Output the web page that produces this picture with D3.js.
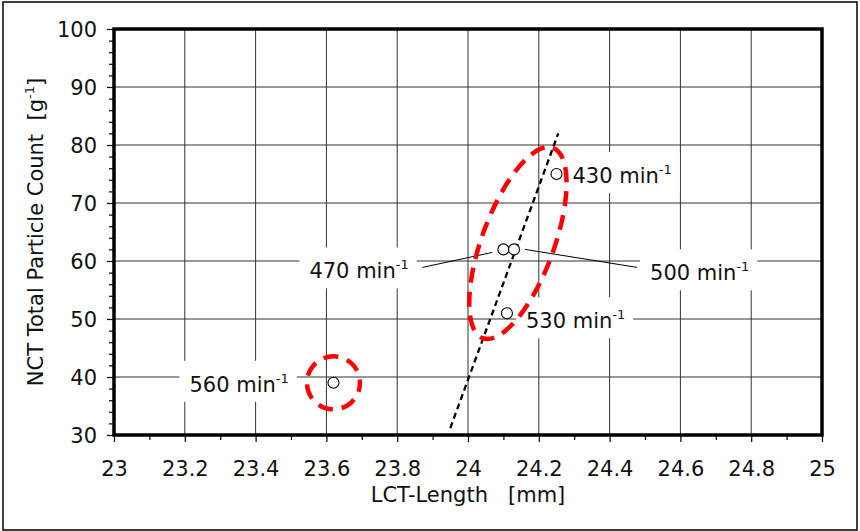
<!DOCTYPE html>
<html><head><meta charset="utf-8">
<script src="https://cdn.jsdelivr.net/npm/d3@7"></script>
<style>html,body{margin:0;padding:0;background:#fff}svg{display:block}</style>
</head><body><svg id="c" width="860" height="531"></svg>
<script>
// ---- data ----
const speeds = ["430", "470", "500", "530", "560"];
const lctLength = [24.25, 24.10, 24.13, 24.11, 23.62];
const particleCount = [75, 62, 62, 51, 39];
const trendX = [23.95, 24.255];
const trendY = [31.2, 82.0];
const groupEllipseAxisX = [24.042, 24.240];
const groupEllipseAxisY = [46.7, 79.5];
const outlierX = [23.62];
const outlierY = [39];
const xTicks = [23, 23.2, 23.4, 23.6, 23.8, 24, 24.2, 24.4, 24.6, 24.8, 25];
const yTicks = [30, 40, 50, 60, 70, 80, 90, 100];

// ---- layout ----
const W = 860, H = 531;
const m = {l: 114, r: 822, t: 29, b: 435};
const FONT = "DejaVu Sans, Verdana, sans-serif";
const FS = 21;
// label offsets (px) relative to point: text left dx, baseline dy, leader line
const labelLayout = [
  {dx: 16, dy: 9},
  {dx: -194, dy: 29, leader: [[-81, 18], [-11, 3]]},
  {dx: 136, dy: 31, leader: [[11, 0], [123, 18]]},
  {dx: 19, dy: 15},
  {dx: -144, dy: 9}
];

const svg = d3.select("#c");
const x = d3.scaleLinear().domain([23, 25]).range([m.l, m.r]);
const y = d3.scaleLinear().domain([30, 100]).range([m.b, m.t]);

svg.append("rect").attr("x", 0).attr("y", 0).attr("width", W).attr("height", H).attr("fill", "#fff");
svg.append("rect").attr("x", 3).attr("y", 2).attr("width", 854).attr("height", 528)
  .attr("fill", "none").attr("stroke", "#000").attr("stroke-width", 1.5);

// grid
const g = svg.append("g");
g.selectAll("line.gx").data(xTicks.slice(1, -1)).join("line")
  .attr("x1", d => x(d)).attr("x2", d => x(d)).attr("y1", m.t).attr("y2", m.b)
  .attr("stroke", "#333").attr("stroke-width", 1);
g.selectAll("line.gy").data(yTicks.slice(1, -1)).join("line")
  .attr("y1", d => y(d)).attr("y2", d => y(d)).attr("x1", m.l).attr("x2", m.r)
  .attr("stroke", "#333").attr("stroke-width", 1);

// axes
const xAxis = d3.axisBottom(x).tickValues(xTicks).tickSize(7).tickFormat(d => String(+d.toFixed(1)));
const xMinor = d3.axisBottom(x).tickValues(d3.range(23.1, 25, 0.2)).tickSize(5).tickFormat("");
const yAxis = d3.axisLeft(y).tickValues(yTicks).tickSize(7).tickFormat(d3.format("d"));
const yMinor = d3.axisLeft(y).tickValues(d3.range(32, 100, 2).filter(v => v % 10 !== 0)).tickSize(5).tickFormat("");

function styleAxis(sel) {
  sel.select(".domain").remove();
  sel.selectAll(".tick line").attr("stroke", "#000").attr("stroke-width", 1.2);
  sel.selectAll("text").attr("font-family", FONT).attr("font-size", FS).attr("fill", "#111");
}
svg.append("g").attr("transform", `translate(0,${m.b})`).call(xAxis).call(styleAxis)
  .selectAll("text").attr("dy", null).attr("y", 41);
svg.append("g").attr("transform", `translate(0,${m.b})`).call(xMinor).call(styleAxis);
svg.append("g").attr("transform", `translate(${m.l},0)`).call(yAxis).call(styleAxis)
  .selectAll("text").attr("x", -17).attr("dy", "0.38em");
svg.append("g").attr("transform", `translate(${m.l},0)`).call(yMinor).call(styleAxis);

// frame
svg.append("rect").attr("x", m.l).attr("y", m.t).attr("width", m.r - m.l).attr("height", m.b - m.t)
  .attr("fill", "none").attr("stroke", "#000").attr("stroke-width", 3.5);

// labels: boxes first
const pts = speeds.map((s, i) => ({s, px: x(lctLength[i]), py: y(particleCount[i]), L: labelLayout[i]}));
const labG = svg.append("g");
const texts = pts.map(p => {
  const t = labG.append("text").attr("x", p.px + p.L.dx).attr("y", p.py + p.L.dy)
    .attr("font-family", FONT).attr("font-size", FS).attr("fill", "#111");
  t.append("tspan").text(p.s + " min");
  t.append("tspan").attr("font-size", 13).attr("dy", -9).text("-1");
  return t;
});
texts.forEach((t, i) => {
  const bb = t.node().getBBox();
  const p = pts[i];
  labG.insert("rect", "text").attr("x", bb.x - 10).attr("y", p.py + p.L.dy - 31)
    .attr("width", bb.width + 18).attr("height", 41).attr("fill", "#fff");
});
const lead = svg.append("g");
pts.forEach(p => {
  if (p.L.leader) {
    const [a, b] = p.L.leader;
    lead.append("line").attr("x1", p.px + a[0]).attr("y1", p.py + a[1])
      .attr("x2", p.px + b[0]).attr("y2", p.py + b[1]).attr("stroke", "#000").attr("stroke-width", 1);
  }
});

// trend line
svg.append("line").attr("x1", x(trendX[0])).attr("y1", y(trendY[0]))
  .attr("x2", x(trendX[1])).attr("y2", y(trendY[1]))
  .attr("stroke", "#000").attr("stroke-width", 2.3).attr("stroke-dasharray", "6,4");

// group ellipse
{
  const x1 = x(groupEllipseAxisX[0]), y1 = y(groupEllipseAxisY[0]);
  const x2 = x(groupEllipseAxisX[1]), y2 = y(groupEllipseAxisY[1]);
  const cx = (x1 + x2) / 2, cy = (y1 + y2) / 2;
  const a = Math.hypot(x2 - x1, y2 - y1) / 2;
  const ang = Math.atan2(y2 - y1, x2 - x1) * 180 / Math.PI;
  svg.append("ellipse").attr("cx", 0).attr("cy", 0).attr("rx", a).attr("ry", 36)
    .attr("transform", `translate(${cx},${cy}) rotate(${ang})`)
    .attr("fill", "none").attr("stroke", "#ff0000").attr("stroke-width", 4.5)
    .attr("stroke-dasharray", "15,9");
}
svg.append("circle").attr("cx", x(outlierX[0])).attr("cy", y(outlierY[0])).attr("r", 26.5)
  .attr("fill", "none").attr("stroke", "#ff0000").attr("stroke-width", 4.5)
  .attr("stroke-dasharray", "15,9").attr("stroke-dashoffset", 6);

// markers
svg.append("g").selectAll("circle").data(pts).join("circle")
  .attr("cx", d => d.px).attr("cy", d => d.py).attr("r", 5.5)
  .attr("fill", "#fff").attr("stroke", "#000").attr("stroke-width", 1.1);

// raise label texts
texts.forEach(t => svg.node().appendChild(t.node()));

// axis titles
svg.append("text").attr("x", (m.l + m.r) / 2).attr("y", 502).attr("text-anchor", "middle")
  .attr("font-family", FONT).attr("font-size", FS).attr("fill", "#111")
  .attr("xml:space", "preserve").text("LCT-Length   [mm]");
const yt = svg.append("text").attr("transform", `translate(43,${(m.t + m.b) / 2}) rotate(-90)`)
  .attr("text-anchor", "middle").attr("font-family", FONT).attr("font-size", FS).attr("fill", "#111")
  .attr("xml:space", "preserve");
yt.append("tspan").text("NCT Total Particle Count  [g");
yt.append("tspan").attr("font-size", 13).attr("dy", -9).text("-1");
yt.append("tspan").attr("dy", 9).text("]");
</script></body></html>
